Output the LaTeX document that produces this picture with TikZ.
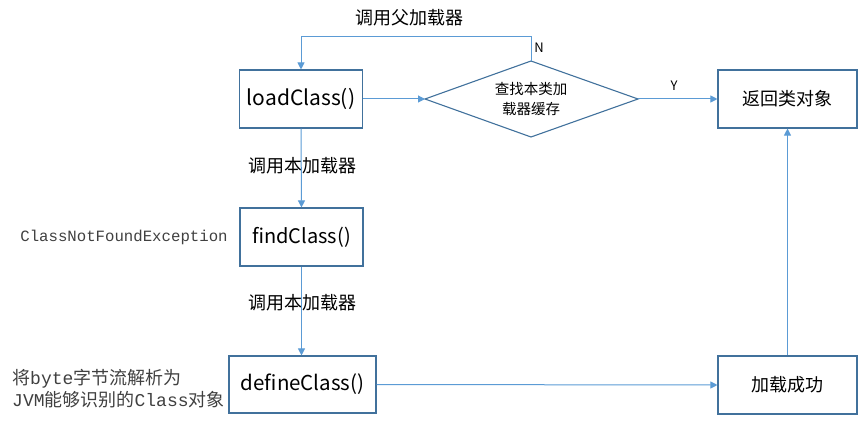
\documentclass[tikz,border=0pt]{standalone}
\usepackage{fontspec}
\setmainfont{Noto Sans CJK SC}
\newfontfamily\cjkfont{Noto Sans CJK SC}
\newfontfamily\monofont{Liberation Mono}
\usetikzlibrary{arrows.meta}
\definecolor{boxline}{HTML}{41719C}
\definecolor{arrline}{HTML}{5B9BD5}
\definecolor{sidetext}{HTML}{404040}
\tikzset{
  box/.style={draw=boxline, line width=1.1pt, inner sep=0pt, minimum width=123pt, minimum height=58pt, text=black},
  arr/.style={draw=arrline, line width=1pt, -{Triangle[length=7pt,width=7pt]}},
  diamline/.style={draw=boxline, line width=1.1pt},
  lbl/.style={inner sep=0pt, text=black},
  side/.style={inner sep=0pt, text=sidetext, align=left}
}
\begin{document}
\begin{tikzpicture}[x=1pt,y=-1pt]
\useasboundingbox (0,0) rectangle (858,422);
% decision diamond
\coordinate (dn) at (531,61);
\coordinate (de) at (638,99);
\coordinate (ds) at (531,137);
\coordinate (dw) at (425,99);
\draw[diamline] (dn) -- (de) -- (ds) -- (dw) -- cycle;
\node[lbl, align=center, font=\fontsize{14.5}{20}\selectfont] (diam) at (531,99) {查找本类加\\载器缓存};
\node[box, font=\fontsize{21}{24}\selectfont] (load) at (301,99) {loadClass()};
\node[box, minimum width=139pt, font=\fontsize{18}{22}\selectfont] (ret) at (787.5,99) {返回类对象};
\node[box, font=\fontsize{20}{24}\selectfont] (find) at (301.5,237) {findClass()};
\node[box, minimum width=147pt, minimum height=57pt, font=\fontsize{20.5}{24}\selectfont] (define) at (302.5,384.5) {defineClass()};
\node[box, minimum width=139pt, font=\fontsize{18}{22}\selectfont] (succ) at (787.5,385) {加载成功};
\node[lbl, font=\fontsize{18}{22}\selectfont] (parent) at (409,18) {调用父加载器};
\node[lbl, font=\fontsize{13}{15}\selectfont] (nlab) at (539,48) {N};
\node[lbl, font=\fontsize{13}{15}\selectfont] (ylab) at (674,86) {Y};
\node[lbl, font=\fontsize{18}{22}\selectfont] (self1) at (302,166) {调用本加载器};
\node[lbl, font=\fontsize{18}{22}\selectfont] (self2) at (302,303) {调用本加载器};
\node[side, font=\monofont\fontsize{15.7}{18}\selectfont] (cnfe) at (124,237) {ClassNotFoundException};
\node[side, font=\fontsize{18}{22}\selectfont, anchor=west] (parse) at (12,389) {{\cjkfont 将}{\monofont byte}{\cjkfont 字节流解析为}\\{\monofont JVM}{\cjkfont 能够识别的}{\monofont Class}{\cjkfont 对象}};
\coordinate (topr) at (531,37);
\draw[arr] (dn) -- (topr) -| (load.north);
\draw[arr] (load.east) -- (dw);
\draw[arr] (de) -- (ret.west);
\draw[arr] (load.south) -- (find.north);
\draw[arr] (find.south) -- (find.south |- define.north);
\draw[arr] (define.east) -- (succ.west);
\draw[arr] (succ.north) -- (ret.south);
\end{tikzpicture}
\end{document}
